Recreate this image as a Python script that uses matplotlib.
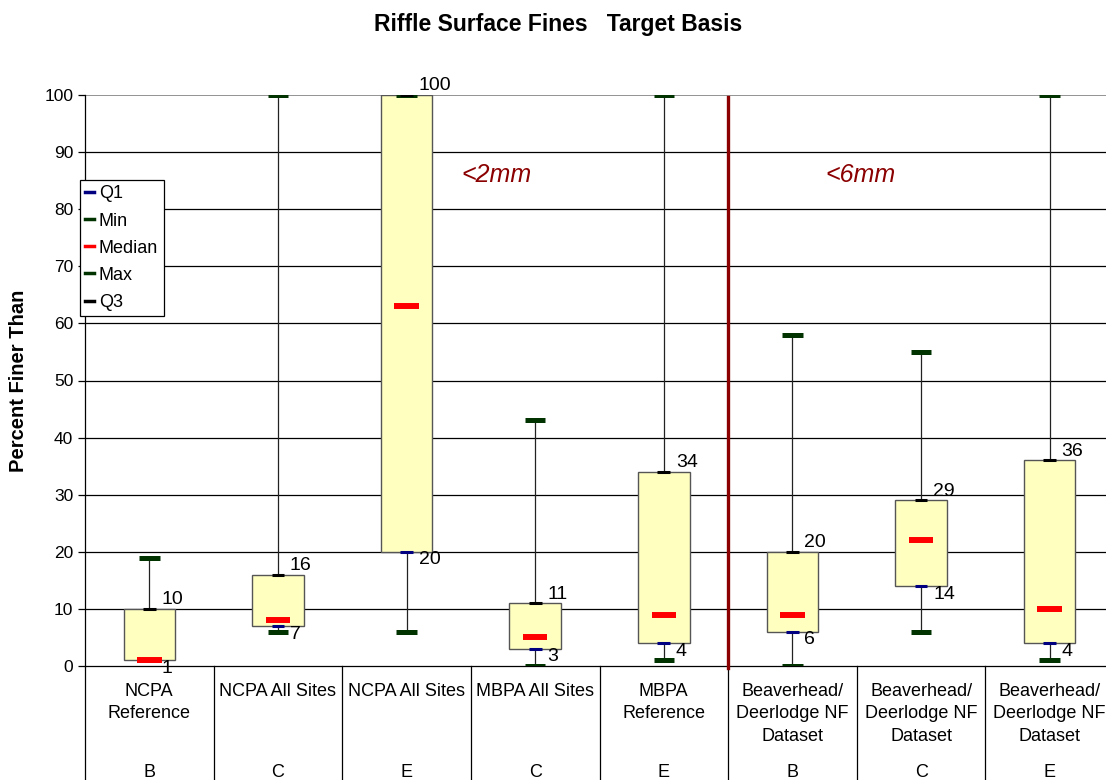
import matplotlib
matplotlib.use('Agg')
import matplotlib.pyplot as plt
import matplotlib.transforms as mtrans
from matplotlib.lines import Line2D
import numpy as np

plt.rcParams['font.family'] = ['Liberation Sans', 'DejaVu Sans']

# box plot statistics per group
groups = ["NCPA\nReference", "NCPA All Sites", "NCPA All Sites", "MBPA All Sites",
          "MBPA\nReference", "Beaverhead/\nDeerlodge NF\nDataset",
          "Beaverhead/\nDeerlodge NF\nDataset", "Beaverhead/\nDeerlodge NF\nDataset"]
classes = ["B", "C", "E", "C", "E", "B", "C", "E"]
mins = [1, 6, 6, 0, 1, 0, 6, 1]
q1 = [1, 7, 20, 3, 4, 6, 14, 4]
medians = [1, 8, 63, 5, 9, 9, 22, 10]
q3 = [10, 16, 100, 11, 34, 20, 29, 36]
maxs = [19, 100, 100, 43, 100, 58, 55, 100]

W, H = 1106, 780
fig = plt.figure(figsize=(W / 100, H / 100), dpi=100)
ax = fig.add_axes([85 / W, 114 / H, 1029 / W, 571 / H])

x = np.arange(len(groups)) + 0.5

# grid lines
for v in range(10, 100, 10):
    ax.axhline(v, color='black', lw=0.9, zorder=0)
ax.axhline(100, color='#808080', lw=1.2, zorder=0)

# whiskers, boxes and markers
ax.vlines(x, mins, maxs, color='#222222', lw=0.9, zorder=1)
ax.bar(x, np.array(q3) - np.array(q1), bottom=q1, width=0.4,
       color='#FFFFC0', edgecolor='#555555', lw=1.0, zorder=2)
ax.hlines(mins, x - 0.08, x + 0.08, color='#003300', lw=3.6, zorder=3)
ax.hlines(maxs, x - 0.08, x + 0.08, color='#003300', lw=3.6, zorder=3)
ax.hlines(q1, x - 0.05, x + 0.05, color='#000080', lw=2.2, zorder=4)
ax.hlines(q3, x - 0.05, x + 0.05, color='black', lw=2.2, zorder=4)
ax.hlines(medians, x - 0.095, x + 0.095, color='#FF0000', lw=4.3, zorder=5)

# data labels
for xi, a, b in zip(x, q1, q3):
    ax.annotate(str(b), (xi, b), xytext=(12, 9), textcoords='offset pixels',
                ha='left', va='center', fontsize=14, zorder=6)
    ax.annotate(str(a), (xi, a), xytext=(12, -8), textcoords='offset pixels',
                ha='left', va='center', fontsize=14, zorder=6)

# separator between size classes
ax.plot([5, 5], [-0.3, 99.6], color='#8B0000', lw=2.4, zorder=6, clip_on=False)
ax.text(3.2, 86, '<2mm', color='#8B0000', fontsize=18, style='italic',
        ha='center', va='center')
ax.text(6.03, 86, '<6mm', color='#8B0000', fontsize=18, style='italic',
        ha='center', va='center')

ax.set_xlim(0, 8)
ax.set_ylim(0, 100)
ax.set_yticks(range(0, 101, 10))
ax.tick_params(axis='y', labelsize=12.5, length=5, direction='out', width=0.9)
ax.set_xticks([])
for s in ['top', 'right', 'bottom']:
    ax.spines[s].set_visible(False)
ax.spines['left'].set_linewidth(0.9)
ax.axhline(0, color='black', lw=0.9, zorder=1, clip_on=False)

# category table under the axis
trans = mtrans.blended_transform_factory(ax.transData, ax.transAxes)
for i in range(len(groups) + 1):
    ax.plot([i, i], [0, -0.21], color='black', lw=0.9, transform=trans,
            clip_on=False)
for xi, g, c in zip(x, groups, classes):
    ax.text(xi, -0.029, g, transform=trans, ha='center', va='top',
            fontsize=13, linespacing=1.45)
    ax.text(xi, -0.186, c, transform=trans, ha='center', va='center',
            fontsize=13)

ax.set_ylabel('Percent Finer Than', fontsize=14.5, fontweight='bold', labelpad=12)
fig.text(558 / W, 1 - 25 / H, 'Riffle Surface Fines   Target Basis',
         ha='center', va='center', fontsize=16.5, fontweight='bold')

handles = [Line2D([], [], color='#000080', lw=2.5),
           Line2D([], [], color='#003300', lw=2.5),
           Line2D([], [], color='#FF0000', lw=2.5),
           Line2D([], [], color='#003300', lw=2.5),
           Line2D([], [], color='black', lw=2.5)]
leg = fig.legend(handles, ['Q1', 'Min', 'Median', 'Max', 'Q3'],
                 loc='upper left', bbox_to_anchor=(80 / W, 1 - 180 / H),
                 fontsize=13, handlelength=0.5, handletextpad=0.25,
                 borderpad=0.3, labelspacing=0.56, borderaxespad=0,
                 fancybox=False, framealpha=1, edgecolor='black')
leg.get_frame().set_linewidth(0.9)

fig.savefig('out.png', dpi=100)
